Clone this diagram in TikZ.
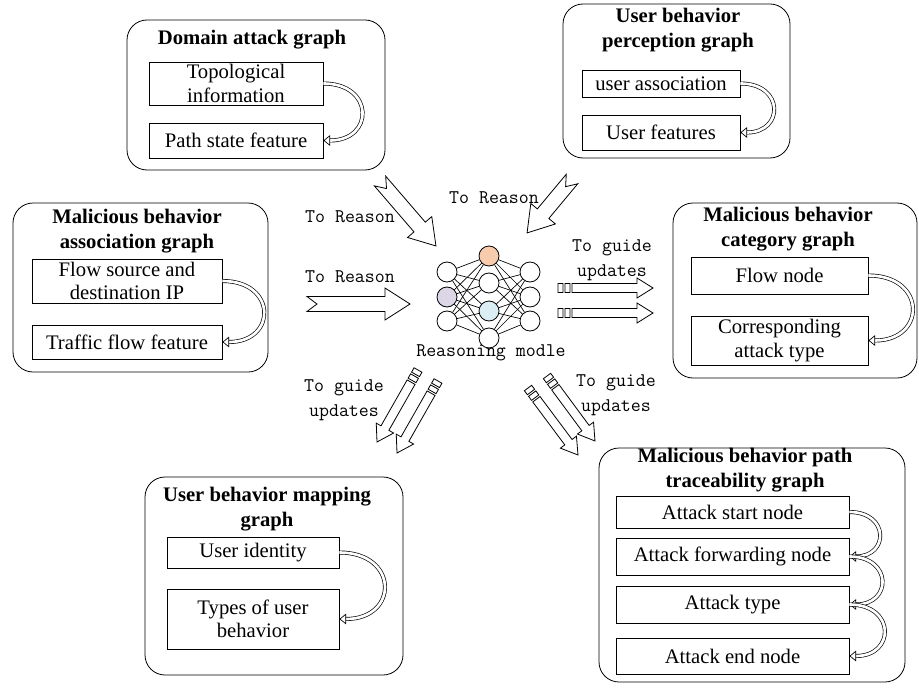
\documentclass[tikz,border=0pt]{standalone}
\usepackage{fontspec}
\setmainfont{Liberation Serif}
\usepackage{tikz}
\usetikzlibrary{positioning,calc,arrows.meta}

\definecolor{nodeorange}{HTML}{F8CBAD}
\definecolor{nodepurple}{HTML}{DCD6E6}
\definecolor{nodeblue}{HTML}{DAEEF3}

\newcommand{\reasonarrow}[2]{%
  \draw[fatarrow] let \p1=($(#2)-(#1)$), \n1={atan2(\y1,\x1)}, \n2={veclen(\x1,\y1)} in
    [shift={(#1)}, rotate=\n1]
    (0pt,5.6pt) -- (\n2-18.75pt,5.6pt) -- (\n2-18.75pt,12pt) -- (\n2+0pt,0pt)
    -- (\n2-18.75pt,-12pt) -- (\n2-18.75pt,-5.6pt) -- (0pt,-5.6pt) -- (7.5pt,0pt) -- cycle;}
\newcommand{\guidearrow}[2]{%
  \draw[fatarrow] let \p1=($(#2)-(#1)$), \n1={atan2(\y1,\x1)}, \n2={veclen(\x1,\y1)} in
    [shift={(#1)}, rotate=\n1]
    (0pt,-3.4pt) -- (3.75pt,-3.4pt) -- (3.75pt,3.4pt) -- (0pt,3.4pt) -- cycle
    (5.25pt,-3.4pt) -- (9pt,-3.4pt) -- (9pt,3.4pt) -- (5.25pt,3.4pt) -- cycle
    (10.5pt,3.4pt) -- (\n2-12pt,3.4pt) -- (\n2-12pt,7.5pt) -- (\n2+0pt,0pt)
    -- (\n2-12pt,-7.5pt) -- (\n2-12pt,-3.4pt) -- (10.5pt,-3.4pt) -- cycle;}

\begin{document}
\begin{tikzpicture}[x=0.75pt, y=-0.75pt,
    panel/.style={draw, rounded corners=15pt, line width=0.6pt},
    item/.style={draw, line width=0.6pt, inner sep=0pt, align=center, font=\fontsize{15.5}{17.5}\selectfont},
    title/.style={align=center, inner sep=0pt, font=\fontsize{15.5}{18.5}\selectfont\bfseries},
    lbl/.style={align=center, inner sep=0pt, font=\fontsize{14.5}{18.5}\selectfont\ttfamily},
    neuron/.style={circle, draw, line width=0.6pt, minimum size=15pt, inner sep=0pt},
    edge/.style={line width=0.5pt},
    curl/.style={double=white, double distance=2pt, line width=0.5pt, -{Triangle[open, length=5pt, width=8pt]}, out=0, in=0, looseness=2.3},
    fatarrow/.style={draw, fill=white, line width=0.6pt},
]
    \useasboundingbox (0,0) rectangle (919,688);

    \node[panel, minimum width=193.5pt, minimum height=112.5pt] (domain) at (256,95) {};
    \node[title] (domaint) at (252,40) {Domain attack graph};
    \node[item, minimum width=130.5pt, minimum height=32.25pt] (dom1) at (236,83.5) {Topological\\information};
    \node[item, minimum width=130.5pt, minimum height=26.25pt] (dom2) at (236,140.5) {Path state feature};
    \draw[curl] (dom1.east) to (dom2.east);

    \node[panel, minimum width=170.25pt, minimum height=115.5pt] (percep) at (676.5,81) {};
    \node[title] (percept) at (678,30) {User behavior\\perception graph};
    \node[item, minimum width=118.5pt, minimum height=20.25pt] (per1) at (661,83.5) {user association};
    \node[item, minimum width=118.5pt, minimum height=26.25pt] (per2) at (661,132.5) {User features};
    \draw[curl] (per1.east) to (per2.east);

    \node[panel, minimum width=191.25pt, minimum height=126.75pt] (assoc) at (140.5,287.5) {};
    \node[title] (assoct) at (137,231) {Malicious behavior\\association graph};
    \node[item, minimum width=142.5pt, minimum height=33pt] (ass1) at (127,281) {Flow source and\\destination IP};
    \node[item, minimum width=142.5pt, minimum height=25.5pt] (ass2) at (127,342) {Traffic flow feature};
    \draw[curl] (ass1.east) to (ass2.east);

    \node[panel, minimum width=183pt, minimum height=131.25pt] (categ) at (795,290.5) {};
    \node[title] (categt) at (788,229) {Malicious behavior\\category graph};
    \node[item, minimum width=132.75pt, minimum height=27.75pt] (cat1) at (779.5,275.5) {Flow node};
    \node[item, minimum width=132.75pt, minimum height=36.75pt] (cat2) at (779.5,340.5) {Corresponding\\attack type};
    \draw[curl] (cat1.east) to (cat2.east);

    \node[panel, minimum width=193.5pt, minimum height=148.5pt] (mapping) at (274,576) {};
    \node[title] (mappingt) at (267,509) {User behavior mapping\\graph};
    \node[item, minimum width=129pt, minimum height=23.25pt] (map1) at (253,552.5) {User identity};
    \node[item, minimum width=129pt, minimum height=45pt] (map2) at (253,619) {Types of user\\behavior};
    \draw[curl] (map1.east) to (map2.east);

    \node[panel, minimum width=229.5pt, minimum height=175.5pt] (trace) at (752,565) {};
    \node[title] (tracet) at (745,470) {Malicious behavior path\\traceability graph};
    \node[item, minimum width=174.75pt, minimum height=24pt] (tr1) at (732.5,512) {Attack start node};
    \node[item, minimum width=174.75pt, minimum height=27.75pt] (tr2) at (732.5,556.5) {Attack forwarding node};
    \node[item, minimum width=174.75pt, minimum height=27.75pt] (tr3) at (732.5,604.5) {Attack type};
    \node[item, minimum width=174.75pt, minimum height=27pt] (tr4) at (732.5,656) {Attack end node};
    \draw[curl] (tr1.east) to (tr2.east);
    \draw[curl] (tr2.east) to (tr3.east);
    \draw[curl] (tr3.east) to (tr4.east);

    \node[neuron] (in1) at (447,272) {};
    \node[neuron, fill=nodepurple] (in2) at (447,297) {};
    \node[neuron] (in3) at (447,321) {};
    \node[neuron, fill=nodeorange] (hid1) at (489,256) {};
    \node[neuron] (hid2) at (489,283) {};
    \node[neuron, fill=nodeblue] (hid3) at (489,311) {};
    \node[neuron] (hid4) at (489,338) {};
    \node[neuron] (out1) at (530,272) {};
    \node[neuron] (out2) at (530,297) {};
    \node[neuron] (out3) at (530,321) {};
    \foreach \i in {1,2,3}
        \foreach \j in {1,...,4}
            \draw[edge] (in\i) -- (hid\j) (hid\j) -- (out\i);
    \node[lbl] (model) at (491,353) {Reasoning modle};

    \coordinate (r1s) at (380,181);
    \coordinate (r1e) at (436,246);
    \coordinate (r2s) at (572,179);
    \coordinate (r2e) at (527,233);
    \coordinate (r3s) at (307,304);
    \coordinate (r3e) at (410,304);
    \reasonarrow{r1s}{r1e}
    \reasonarrow{r2s}{r2e}
    \reasonarrow{r3s}{r3e}
    \node[lbl] (reason1) at (350,217) {To Reason};
    \node[lbl] (reason2) at (494,198) {To Reason};
    \node[lbl] (reason3) at (350,277) {To Reason};

    \coordinate (g1s) at (558,288);
    \coordinate (g1e) at (653,288);
    \coordinate (g2s) at (558,313);
    \coordinate (g2e) at (653,313);
    \coordinate (g3s) at (418,370);
    \coordinate (g3e) at (377,442);
    \coordinate (g4s) at (438,381);
    \coordinate (g4e) at (397,453);
    \coordinate (g5s) at (547,376);
    \coordinate (g5e) at (595,441);
    \coordinate (g6s) at (528,388);
    \coordinate (g6e) at (578,455);
    \foreach \k in {1,...,6}{
        \guidearrow{g\k s}{g\k e}
    }
    \node[lbl] (guide1) at (612,260) {To guide\\updates};
    \node[lbl] (guide2) at (344,400) {To guide\\updates};
    \node[lbl] (guide3) at (616,395) {To guide\\updates};
\end{tikzpicture}
\end{document}
